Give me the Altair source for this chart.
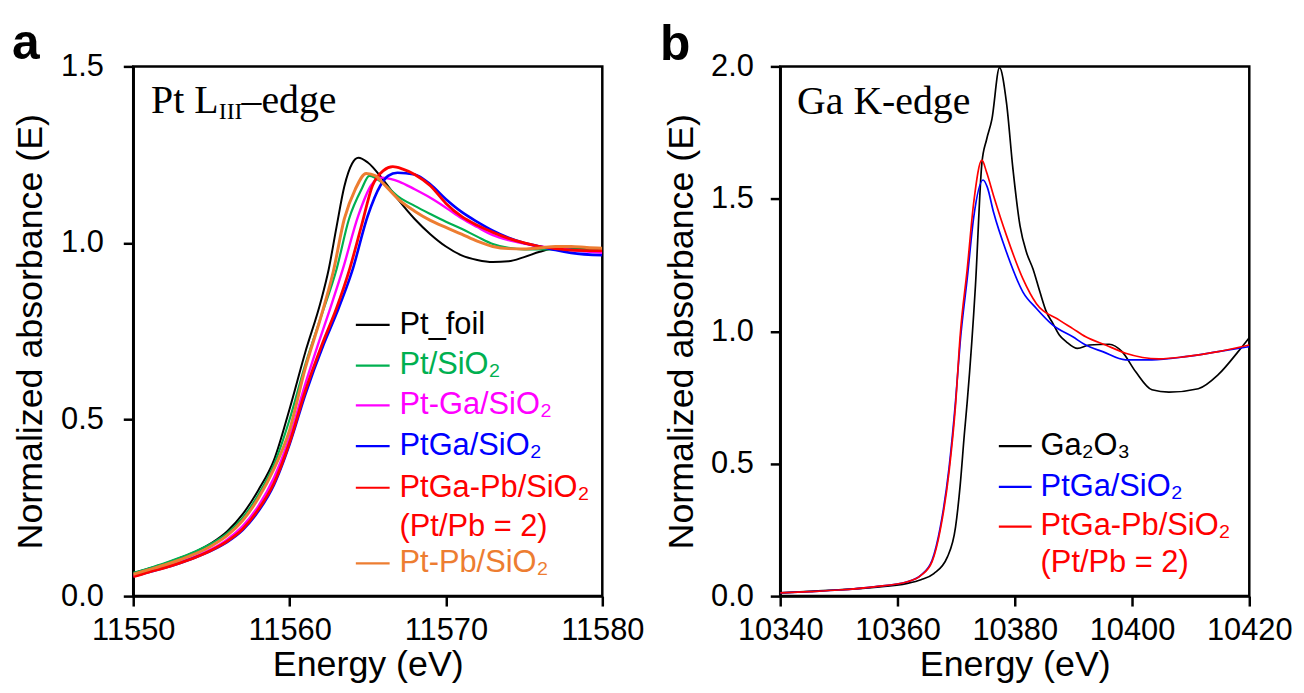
import altair as alt
import pandas as pd

# ---------------- Panel a : Pt L3-edge ----------------
a_labels = ["Pt_foil", "Pt/SiO₂", "Pt-Ga/SiO₂", "PtGa/SiO₂", "PtGa-Pb/SiO₂", "Pt-Pb/SiO₂"]
a_colors = ["#000000", "#00B050", "#FF00FF", "#0000FF", "#FF0000", "#ED7D31"]
a_widths = [2.0, 3.0, 2.0, 2.0, 2.0, 2.0]

ptfoil_E = [11550, 11551, 11552, 11553, 11554, 11555, 11556, 11557, 11558, 11559, 11560, 11561, 11562, 11562.5,
            11563, 11563.5, 11564, 11564.4, 11565, 11566, 11567, 11568, 11569, 11570, 11571, 11572, 11573, 11574,
            11575, 11576, 11577, 11578, 11579, 11580]
ptfoil_mu = [0.065, 0.078, 0.092, 0.108, 0.126, 0.150, 0.183, 0.232, 0.300, 0.385, 0.53, 0.69, 0.835, 0.925,
             1.045, 1.16, 1.225, 1.241, 1.228, 1.178, 1.12, 1.068, 1.025, 0.99, 0.965, 0.952, 0.946, 0.948,
             0.96, 0.975, 0.985, 0.986, 0.984, 0.982]

ptsio2_E = [11550, 11551, 11552, 11553, 11554, 11555, 11556, 11557, 11558, 11559, 11560, 11561, 11562, 11563,
            11563.8, 11564.6, 11565.1, 11566, 11567, 11568, 11569, 11570, 11571, 11572, 11573, 11574, 11575,
            11576, 11578, 11580]
ptsio2_mu = [0.066, 0.079, 0.093, 0.109, 0.127, 0.149, 0.178, 0.222, 0.287, 0.372, 0.50, 0.655, 0.79, 0.925,
             1.068, 1.152, 1.19, 1.168, 1.13, 1.105, 1.082, 1.06, 1.04, 1.018, 0.997, 0.986, 0.982,
             0.982, 0.982, 0.978]

ptga_sep_E = [11550, 11551, 11552, 11553, 11554, 11555, 11556, 11557, 11558, 11559, 11560, 11561, 11561.8,
              11562.6, 11563.4, 11564.4, 11565.2, 11565.8, 11566.5, 11567, 11568, 11569, 11570, 11571, 11572,
              11573, 11574, 11575, 11576, 11577, 11578, 11580]
ptga_sep_mu = [0.058, 0.07, 0.083, 0.097, 0.113, 0.133, 0.160, 0.198, 0.255, 0.335, 0.45, 0.60, 0.71,
               0.815, 0.925, 1.078, 1.162, 1.185, 1.181, 1.174, 1.152, 1.128, 1.10, 1.07, 1.045,
               1.022, 1.008, 0.998, 0.99, 0.985, 0.98, 0.972]

ptga_E = [11550, 11551, 11552, 11553, 11554, 11555, 11556, 11557, 11558, 11559, 11560, 11561, 11562.2, 11563,
          11564, 11565, 11565.8, 11566.3, 11566.9, 11568, 11569, 11570, 11571, 11572, 11573, 11574, 11575,
          11576, 11577, 11578, 11580]
ptga_mu = [0.056, 0.068, 0.08, 0.094, 0.11, 0.129, 0.153, 0.187, 0.24, 0.315, 0.43, 0.57, 0.715, 0.80,
           0.92, 1.077, 1.162, 1.19, 1.199, 1.194, 1.166, 1.124, 1.088, 1.06, 1.035, 1.015, 1.0,
           0.99, 0.98, 0.972, 0.965]

ptgapb_E = [11550, 11551, 11552, 11553, 11554, 11555, 11556, 11557, 11558, 11559, 11560, 11561, 11562.1, 11563,
            11563.8, 11564.6, 11565.3, 11566, 11566.6, 11567.2, 11568, 11569, 11570, 11571, 11572, 11573, 11574,
            11575, 11576, 11577, 11578, 11580]
ptgapb_mu = [0.055, 0.068, 0.08, 0.094, 0.11, 0.13, 0.155, 0.19, 0.245, 0.32, 0.435, 0.58, 0.715, 0.815,
             0.92, 1.049, 1.162, 1.205, 1.216, 1.21, 1.194, 1.162, 1.112, 1.075, 1.05, 1.03, 1.013,
             1.0, 0.99, 0.984, 0.98, 0.978]

ptpb_E = [11550, 11551, 11552, 11553, 11554, 11555, 11556, 11557, 11558, 11559, 11560, 11561, 11562, 11562.8,
          11563.5, 11564.2, 11564.9, 11565.5, 11566, 11567, 11568, 11569, 11570, 11571, 11572, 11573, 11574,
          11575, 11576, 11577, 11578, 11579, 11580]
ptpb_mu = [0.062, 0.075, 0.088, 0.103, 0.12, 0.142, 0.171, 0.214, 0.277, 0.36, 0.47, 0.645, 0.79, 0.92,
           1.068, 1.152, 1.197, 1.19, 1.168, 1.122, 1.09, 1.064, 1.044, 1.025, 1.005, 0.99, 0.984,
           0.983, 0.986, 0.99, 0.99, 0.987, 0.985]

# ---------------- Panel b : Ga K-edge ----------------
b_labels = ["Ga₂O₃", "PtGa/SiO₂", "PtGa-Pb/SiO₂"]
b_colors = ["#000000", "#0000FF", "#FF0000"]

ga2o3_E = [10340, 10345, 10350, 10356, 10361.7, 10364, 10366.2, 10368.5, 10369.9, 10370.7, 10371.4, 10371.9,
           10373.3, 10374.4, 10375.2, 10376.1, 10377.4, 10378.6, 10379.7, 10380.9, 10382, 10383.1, 10384.3,
           10385.4, 10386.5, 10387.6, 10388.8, 10390.7, 10392.7, 10396.1, 10398.3, 10400.6, 10403.4, 10406.3,
           10411.3, 10414.7, 10418.1, 10420]
ga2o3_mu = [0.012, 0.018, 0.024, 0.033, 0.048, 0.062, 0.085, 0.147, 0.26, 0.42, 0.61, 0.735,
            1.173, 1.636, 1.724, 1.80, 1.995, 1.861, 1.611, 1.398, 1.298, 1.236, 1.148,
            1.073, 1.03, 0.986, 0.96, 0.935, 0.948, 0.951, 0.923, 0.848, 0.779, 0.77,
            0.783, 0.836, 0.923, 0.976]

bptga_E = [10340, 10345, 10350, 10356, 10361.7, 10364, 10365.9, 10367.3, 10368.8, 10369.9, 10370.7, 10371.9,
           10373.0, 10374.6, 10375.3, 10376.4, 10378.6, 10381.4, 10383.7, 10386.5, 10389.9, 10392.1, 10395,
           10398.9, 10403.4, 10409.1, 10414.7, 10420]
bptga_mu = [0.012, 0.017, 0.023, 0.035, 0.054, 0.079, 0.135, 0.26, 0.485, 0.735, 0.96, 1.20,
            1.43, 1.571, 1.545, 1.448, 1.298, 1.148, 1.086, 1.023, 0.979, 0.948, 0.923,
            0.892, 0.892, 0.904, 0.923, 0.942]

bptgapb_E = [10340, 10345, 10350, 10356, 10361.7, 10364, 10365.9, 10367.3, 10368.8, 10369.9, 10370.7, 10371.9,
             10373.0, 10374.4, 10375.2, 10376.4, 10378.6, 10381.4, 10383.7, 10387.6, 10389.9, 10392.1, 10395.5,
             10398.9, 10404.6, 10409.1, 10414.7, 10420]
bptgapb_mu = [0.012, 0.017, 0.023, 0.035, 0.054, 0.078, 0.13, 0.25, 0.47, 0.72, 0.986, 1.236,
              1.486, 1.646, 1.60, 1.511, 1.361, 1.198, 1.104, 1.042, 1.01, 0.979, 0.948,
              0.917, 0.896, 0.904, 0.923, 0.948]

a_x_ticks = [11550, 11560, 11570, 11580]
a_y_ticks = [0.0, 0.5, 1.0, 1.5]
b_x_ticks = [10340, 10360, 10380, 10400, 10420]
b_y_ticks = [0.0, 0.5, 1.0, 1.5, 2.0]

W, H = 472, 533
SANS = "Liberation Sans"
SERIF = "Liberation Serif"


def frame(pairs, labels):
    rows = []
    for (E, mu), lab in zip(pairs, labels):
        for e, m in zip(E, mu):
            rows.append({"E": e, "mu": m, "s": lab})
    return pd.DataFrame(rows)


df_a = frame([(ptfoil_E, ptfoil_mu), (ptsio2_E, ptsio2_mu), (ptga_sep_E, ptga_sep_mu),
              (ptga_E, ptga_mu), (ptgapb_E, ptgapb_mu), (ptpb_E, ptpb_mu)], a_labels)
df_b = frame([(ga2o3_E, ga2o3_mu), (bptga_E, bptga_mu), (bptgapb_E, bptgapb_mu)], b_labels)


def axis(values, fmt, title, lpad, tpad):
    return alt.Axis(values=values, format=fmt, title=title, grid=False, tickSize=10, tickWidth=2.5,
                    tickColor="black", domainColor="black", domainWidth=2.5, labelFont=SANS,
                    labelFontSize=31, labelColor="black", labelFlush=False, labelOverlap=False,
                    labelPadding=lpad, titleFont=SANS, titleFontSize=36, titleFontWeight="normal",
                    titleColor="black", titlePadding=tpad)


def txt(s, x, y, color="black", size=31, font=SANS, weight="normal", baseline="middle"):
    return alt.Chart(pd.DataFrame({"t": [s]})).mark_text(
        align="left", baseline=baseline, font=font, fontSize=size, fontWeight=weight, color=color
    ).encode(x=alt.value(x), y=alt.value(y), text="t:N")


def seg(x1, x2, y, color):
    return alt.Chart(pd.DataFrame({"k": [0]})).mark_rule(color=color, strokeWidth=2.2).encode(
        x=alt.value(x1), x2=alt.value(x2), y=alt.value(y))


lines_a = alt.Chart(df_a).mark_line(interpolate="monotone", clip=True).encode(
    x=alt.X("E:Q", scale=alt.Scale(domain=[11550, 11580], nice=False, zero=False),
            axis=axis(a_x_ticks, "d", "Energy (eV)", 10, 2)),
    y=alt.Y("mu:Q", scale=alt.Scale(domain=[0, 1.5], nice=False),
            axis=axis(a_y_ticks, ".1f", "Normalized absorbance (E)", 20, 11)),
    color=alt.Color("s:N", scale=alt.Scale(domain=a_labels, range=a_colors), legend=None),
    strokeWidth=alt.StrokeWidth("s:N", scale=alt.Scale(domain=a_labels, range=a_widths), legend=None),
)

lines_b = alt.Chart(df_b).mark_line(interpolate="monotone", clip=True, strokeWidth=1.7).encode(
    x=alt.X("E:Q", scale=alt.Scale(domain=[10340, 10420], nice=False, zero=False),
            axis=axis(b_x_ticks, "d", "Energy (eV)", 10, 2)),
    y=alt.Y("mu:Q", scale=alt.Scale(domain=[0, 2.0], nice=False),
            axis=axis(b_y_ticks, ".1f", "Normalized absorbance (E)", 17, 10)),
    color=alt.Color("s:N", scale=alt.Scale(domain=b_labels, range=b_colors), legend=None),
)

# legend + annotations for panel a
ann_a = [
    txt("a", -122, -7, size=50, weight="bold", baseline="alphabetic"),
    txt("Pt L", 18, 47, size=40, font=SERIF, baseline="alphabetic"),
    txt("III", 86, 53, size=24, font=SERIF, baseline="alphabetic"),
    txt("–edge", 109, 47, size=40, font=SERIF, baseline="alphabetic"),
]
a_rows = [260, 301, 341, 382, 424, 500]
for lab, col, yy in zip(a_labels, a_colors, a_rows):
    ann_a.append(seg(224, 258, yy, col))
    ann_a.append(txt(lab, 268, yy, color=col))
ann_a.append(txt("(Pt/Pb = 2)", 268, 464, color=a_colors[4]))

ann_b = [
    txt("b", -121, -6, size=50, weight="bold", baseline="alphabetic"),
    txt("Ga K-edge", 17, 48, size=40, font=SERIF, baseline="alphabetic"),
]
b_rows = [382, 423, 463]
for lab, col, yy in zip(b_labels, b_colors, b_rows):
    ann_b.append(seg(220, 253, yy, col))
    ann_b.append(txt(lab, 262, yy, color=col))
ann_b.append(txt("(Pt/Pb = 2)", 262, 500, color=b_colors[2]))

panel_a = alt.layer(lines_a, *ann_a).properties(width=W, height=H)
panel_b = alt.layer(lines_b, *ann_b).properties(width=W, height=H)

# fixed-size canvas: 1296 x 677, plot a origin placed at (126, 55) inside it
chart = alt.hconcat(panel_a, panel_b, spacing=179, bounds="flush").configure(
    autosize=alt.AutoSizeParams(type="none"),
    padding={"left": 126, "top": 55, "right": 1170, "bottom": 622},
).configure_view(stroke="black", strokeWidth=2.5)

chart.save("out.html", embed_options={"renderer": "svg", "actions": False})
